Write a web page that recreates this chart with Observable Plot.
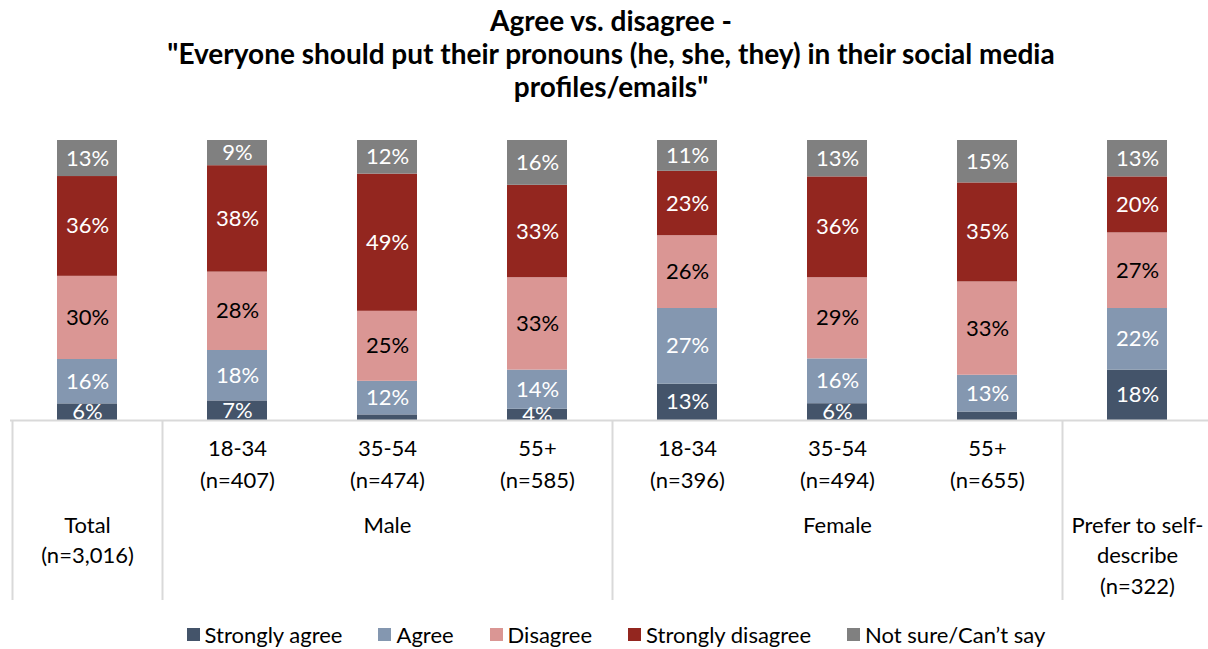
<!DOCTYPE html>
<html>
<head>
<meta charset="utf-8">
<script src="https://cdn.jsdelivr.net/npm/d3@7"></script>
<script src="https://cdn.jsdelivr.net/npm/@observablehq/plot@0.6"></script>
<style>
  html, body { margin: 0; padding: 0; background: #fff; }
  body { width: 1208px; height: 649px; overflow: hidden; font-family: Lato, "Open Sans", sans-serif; }
  #title { box-sizing: border-box; height: 120px; padding-top: 4px; padding-left: 14px; text-align: center;
           font-weight: bold; font-size: 28px; line-height: 33px; color: #000; }
  #legend { display: flex; justify-content: center; gap: 36px; padding-left: 24px; font-size: 22px; color: #000; margin-top: 6px; }
  #legend .item { display: flex; align-items: center; gap: 5px; }
  #legend .sw { width: 13px; height: 13px; display: inline-block; }
</style>
</head>
<body>
<div id="title">Agree vs. disagree -<br>"Everyone should put their pronouns (he, she, they) in their social media<br>profiles/emails"</div>
<div id="chart"></div>
<div id="legend"></div>
<script>
const categories = ["Total", "M 18-34", "M 35-54", "M 55+", "F 18-34", "F 35-54", "F 55+", "Self"];
const ageLabels = ["", "18-34\n(n=407)", "35-54\n(n=474)", "55+\n(n=585)", "18-34\n(n=396)", "35-54\n(n=494)", "55+\n(n=655)", ""];
const groupLabels = [
  {at: "Total", text: "Total\n(n=3,016)"},
  {at: "M 35-54", text: "Male"},
  {at: "F 35-54", text: "Female"},
  {at: "Self", text: "Prefer to self-\ndescribe\n(n=322)"}
];
const groupStarts = ["Total", "M 18-34", "F 18-34", "Self"];

const seriesNames = ["Strongly agree", "Agree", "Disagree", "Strongly disagree", "Not sure/Can\u2019t say"];
const seriesColors = ["#44546A", "#8497B0", "#DA9694", "#93261F", "#808080"];
const labelColors = ["#fff", "#fff", "#000", "#fff", "#fff"];

const stronglyAgree    = [6, 7, 2, 4, 13, 6, 3, 18];
const agree            = [16, 18, 12, 14, 27, 16, 13, 22];
const disagree         = [30, 28, 25, 33, 26, 29, 33, 27];
const stronglyDisagree = [36, 38, 49, 33, 23, 36, 35, 20];
const notSure          = [13, 9, 12, 16, 11, 13, 15, 13];

const seriesValues = [stronglyAgree, agree, disagree, stronglyDisagree, notSure];

const data = [];
seriesNames.forEach((s, si) => {
  categories.forEach((c, ci) => {
    data.push({category: c, series: s, value: seriesValues[si][ci], labelColor: labelColors[si]});
  });
});

const stackOpts = {x: "category", y: "value", z: "series", order: seriesNames, offset: "normalize"};

const plot = Plot.plot({
  width: 1208,
  height: 495,
  marginTop: 20,
  marginBottom: 195,
  marginLeft: 10,
  marginRight: 0,
  style: {fontFamily: "Lato, 'Open Sans', sans-serif", overflow: "visible"},
  x: {domain: categories, range: [11, 1213], paddingInner: 0.6, paddingOuter: 0.3, axis: null},
  y: {domain: [0, 1], axis: null},
  color: {domain: seriesNames, range: seriesColors},
  marks: [
    Plot.barY(data, Plot.stackY({...stackOpts, fill: "series"})),
    Plot.text(data, Plot.stackY({
      ...stackOpts,
      text: d => d.value >= 4 ? d.value + "%" : "",
      fill: "labelColor",
      fontSize: 22
    })),
    Plot.ruleY([0], {stroke: "#D9D9D9", strokeWidth: 2}),
    Plot.ruleX(groupStarts, {x: d => d, y1: 0, y2: 0, dx: -75, insetBottom: -180, stroke: "#D9D9D9", strokeWidth: 2}),
    Plot.text(categories, {x: d => d, y: 0, text: (d, i) => ageLabels[i], dy: 13, lineAnchor: "top", lineHeight: 1.45, fontSize: 22, fill: "#000"}),
    Plot.text(groupLabels, {x: "at", y: 0, text: "text", dy: 91, lineAnchor: "top", lineHeight: 1.38, fontSize: 22, fill: "#000"})
  ]
});
document.getElementById("chart").appendChild(plot);

const legend = document.getElementById("legend");
seriesNames.forEach((s, i) => {
  const item = document.createElement("div");
  item.className = "item";
  const sw = document.createElement("span");
  sw.className = "sw";
  sw.style.background = seriesColors[i];
  const t = document.createElement("span");
  t.textContent = s;
  item.appendChild(sw);
  item.appendChild(t);
  legend.appendChild(item);
});
</script>
</body>
</html>
